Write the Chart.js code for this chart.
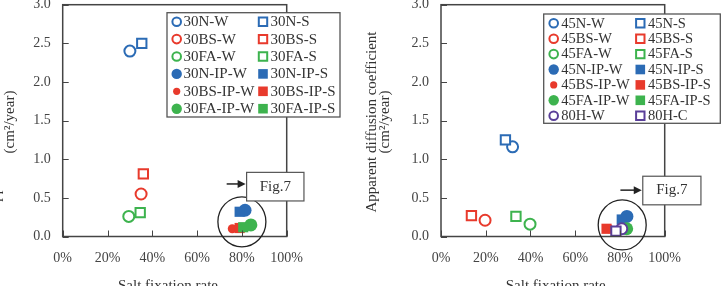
<!DOCTYPE html>
<html>
<head>
<meta charset="utf-8">
<script src="https://cdn.jsdelivr.net/npm/chart.js@4"></script>
<style>
  html, body { margin: 0; padding: 0; background: #fff; }
  #wrap { position: relative; width: 723px; height: 286px; overflow: hidden; }
  .pane { position: absolute; top: 0; height: 286px; }
</style>
</head>
<body>
<div id="wrap">
  <div class="pane" style="left:0;width:362px"><canvas id="chart1" width="362" height="286"></canvas></div>
  <div class="pane" style="left:362px;width:361px"><canvas id="chart2" width="361" height="286"></canvas></div>
</div>
<script>
// left panel: W/S pairs, one legend row per pair
var leftSeries = ['30N-W', '30N-S', '30BS-W', '30BS-S', '30FA-W', '30FA-S',
                  '30N-IP-W', '30N-IP-S', '30BS-IP-W', '30BS-IP-S', '30FA-IP-W', '30FA-IP-S'];
var leftX = [30, 35.3, 35, 36, 29.5, 34.6, 81.4, 79, 75.7, 79, 84, 80.6];
var leftY = [2.40, 2.50, 0.55, 0.81, 0.26, 0.31, 0.34, 0.32, 0.10, 0.11, 0.15, 0.12];

// right panel
var rightSeries = ['45N-W', '45N-S', '45BS-W', '45BS-S', '45FA-W', '45FA-S',
                   '45N-IP-W', '45N-IP-S', '45BS-IP-W', '45BS-IP-S', '45FA-IP-W', '45FA-IP-S',
                   '80H-W', '80H-C'];
var rightX = [32, 28.8, 19.7, 13.6, 39.8, 33.5, 83.1, 80.8, 75, 74, 83, 81.5, 80.8, 78.2];
var rightY = [1.16, 1.25, 0.21, 0.27, 0.16, 0.26, 0.26, 0.22, 0.10, 0.10, 0.10, 0.10, 0.10, 0.07];

var xTicks = [0, 20, 40, 60, 80, 100];
var yTicks = [0, 0.5, 1.0, 1.5, 2.0, 2.5, 3.0];

var SERIF = '"Liberation Serif", "DejaVu Serif", serif';
var colors = { N: '#2b6bb5', BS: '#e83a2c', FA: '#3db34e', H: '#5a3f99' };

function styleFor(name) {
    var m = name.match(/^\d+(N|BS|FA|H)/);
    var color = colors[m[1]];
    var filled = name.indexOf('-IP-') >= 0;
    var circle = /-W$/.test(name);
    var r;
    if (circle) r = filled ? (m[1] === 'BS' ? 4.5 : 6.5) : 5.5;
    else r = filled ? 7.2 : 6.6;
    return { color: color, filled: filled, circle: circle, r: r };
}

function makeDatasets(names, xs, ys) {
    var n = names.length;
    return names.map(function(name, i) {
        var s = styleFor(name);
        return {
            label: name,
            data: [{ x: xs[i], y: ys[i] }],
            pointStyle: s.circle ? 'circle' : 'rect',
            pointRadius: s.r,
            pointBorderWidth: s.filled ? 0 : 2,
            borderColor: s.color,
            backgroundColor: s.filled ? s.color : '#fff',
            showLine: false,
            clip: false,
            order: n - i
        };
    });
}

function drawMarker(ctx, s, x, y) {
    ctx.save();
    ctx.fillStyle = s.filled ? s.color : '#fff';
    ctx.strokeStyle = s.color;
    ctx.lineWidth = 2;
    ctx.beginPath();
    if (s.circle) {
        var r = s.filled ? (s.r === 4.5 ? 3.6 : 5.2) : 4.3;
        ctx.arc(x, y, r, 0, Math.PI * 2);
    } else {
        var h = s.filled ? 4.8 : 4.2;
        ctx.rect(x - h, y - h, h * 2, h * 2);
    }
    ctx.fill();
    if (!s.filled) ctx.stroke();
    ctx.restore();
}

var decorPlugin = {
    id: 'decor',
    afterDraw: function(chart, args, o) {
        var ctx = chart.ctx, a = chart.chartArea;
        var xs = chart.scales.x, ys = chart.scales.y;
        ctx.save();
        // frame + inward ticks
        ctx.strokeStyle = '#444';
        ctx.lineWidth = 1.5;
        ctx.strokeRect(a.left, a.top, a.right - a.left, a.bottom - a.top);
        ctx.lineWidth = 1;
        ctx.beginPath();
        yTicks.forEach(function(v) {
            var py = Math.round(ys.getPixelForValue(v)) + 0.5;
            ctx.moveTo(a.left, py); ctx.lineTo(a.left + 6, py);
        });
        xTicks.forEach(function(v) {
            var px = Math.round(xs.getPixelForValue(v)) + 0.5;
            ctx.moveTo(px, a.bottom); ctx.lineTo(px, a.bottom - 6);
        });
        ctx.stroke();

        // axis titles
        ctx.fillStyle = '#333';
        ctx.font = '15px ' + SERIF;
        ctx.textAlign = 'center';
        ctx.textBaseline = 'middle';
        ctx.fillText('Salt fixation rate', o.xTitleX, 286);
        o.yTitle.forEach(function(t) {
            ctx.save();
            ctx.translate(t.x, 122);
            ctx.rotate(-Math.PI / 2);
            ctx.textBaseline = t.base;
            ctx.fillText(t.text, 0, 0);
            ctx.restore();
        });

        // highlight circle
        var cx = xs.getPixelForValue(o.ring.x), cy = ys.getPixelForValue(o.ring.y);
        ctx.strokeStyle = '#222';
        ctx.lineWidth = 1.3;
        ctx.beginPath();
        ctx.ellipse(cx, cy, 24, 25, 0, 0, Math.PI * 2);
        ctx.stroke();

        // Fig.7 callout
        var bx0 = xs.getPixelForValue(o.fig.x0), bx1 = xs.getPixelForValue(o.fig.x1);
        var by0 = ys.getPixelForValue(o.fig.y0), by1 = ys.getPixelForValue(o.fig.y1);
        ctx.fillStyle = '#fff';
        ctx.fillRect(bx0, by0, bx1 - bx0, by1 - by0);
        ctx.strokeStyle = '#555';
        ctx.lineWidth = 1.2;
        ctx.strokeRect(bx0, by0, bx1 - bx0, by1 - by0);
        ctx.fillStyle = '#333';
        ctx.font = '15px ' + SERIF;
        ctx.textBaseline = 'middle';
        ctx.fillText('Fig.7', (bx0 + bx1) / 2, (by0 + by1) / 2);
        var ax = xs.getPixelForValue(o.fig.ax), ay = ys.getPixelForValue(o.fig.ay);
        ctx.strokeStyle = '#222';
        ctx.lineWidth = 1.5;
        ctx.beginPath();
        ctx.moveTo(ax, ay); ctx.lineTo(bx0 - 7, ay);
        ctx.stroke();
        ctx.fillStyle = '#222';
        ctx.beginPath();
        ctx.moveTo(bx0 - 1, ay); ctx.lineTo(bx0 - 9, ay - 4); ctx.lineTo(bx0 - 9, ay + 4);
        ctx.closePath();
        ctx.fill();

        // legend, two columns
        var L = o.legend;
        ctx.fillStyle = '#fff';
        ctx.fillRect(L.x, L.y, L.w, L.h);
        ctx.strokeStyle = '#555';
        ctx.lineWidth = 1.3;
        ctx.strokeRect(L.x, L.y, L.w, L.h);
        ctx.font = L.font + 'px ' + SERIF;
        ctx.textAlign = 'left';
        chart.data.datasets.forEach(function(ds, i) {
            var row = Math.floor(i / 2), col = i % 2;
            var y = L.row0 + row * L.rowH;
            var s = styleFor(ds.label);
            drawMarker(ctx, s, L.mx[col], y);
            ctx.fillStyle = '#333';
            ctx.fillText(ds.label, L.tx[col], y + 0.5);
        });
        ctx.restore();
    }
};

function scalesFor(yWidth) {
    return {
        x: {
            type: 'linear', min: 0, max: 100,
            afterBuildTicks: function(s) { s.ticks = xTicks.map(function(v) { return { value: v }; }); },
            ticks: { callback: function(v) { return v + '%'; }, color: '#444', font: { family: SERIF, size: 14 }, padding: 13, maxRotation: 0 },
            grid: { display: false, drawTicks: false },
            border: { display: false },
            afterFit: function(s) { s.height = 49.5; s.paddingLeft = 0; s.paddingRight = 0; }
        },
        y: {
            type: 'linear', min: 0, max: 3,
            afterBuildTicks: function(s) { s.ticks = yTicks.map(function(v) { return { value: v }; }); },
            ticks: { callback: function(v) { return v.toFixed(1); }, color: '#444', font: { family: SERIF, size: 14 }, padding: 12 },
            grid: { display: false, drawTicks: false },
            border: { display: false },
            afterFit: function(s) { s.width = yWidth; s.paddingTop = 0; s.paddingBottom = 0; }
        }
    };
}

window.onload = function() {
    var ctx1 = document.getElementById('chart1').getContext('2d');
    var ctx2 = document.getElementById('chart2').getContext('2d');

    new Chart(ctx1, {
        type: 'scatter',
        data: { datasets: makeDatasets(leftSeries, leftX, leftY) },
        options: {
            responsive: false,
            animation: false,
            layout: { autoPadding: false, padding: { top: 4.7, right: 75.3, left: 0, bottom: 0 } },
            scales: scalesFor(62.7),
            plugins: {
                legend: { display: false },
                tooltip: { enabled: false },
                decor: {
                    xTitleX: 168,
                    yTitle: [{ text: 'Apparent diffusion coefficient', x: -0.5, base: 'alphabetic' },
                             { text: '(cm\u00b2/year)', x: 10, base: 'middle' }],
                    ring: { x: 80, y: 0.19 },
                    fig: { x0: 82.1, x1: 107.7, y0: 0.83, y1: 0.46, ax: 73.2, ay: 0.68 },
                    legend: { x: 167, y: 12.7, w: 173, h: 104.3, row0: 21.7, rowH: 17.4, mx: [176.7, 263], tx: [183.5, 270.5], font: 15 }
                }
            }
        },
        plugins: [decorPlugin]
    });

    new Chart(ctx2, {
        type: 'scatter',
        data: { datasets: makeDatasets(rightSeries, rightX, rightY) },
        options: {
            responsive: false,
            animation: false,
            layout: { autoPadding: false, padding: { top: 4.7, right: 58.3, left: 0, bottom: 0 } },
            scales: scalesFor(79),
            plugins: {
                legend: { display: false },
                tooltip: { enabled: false },
                decor: {
                    xTitleX: 193.7,
                    yTitle: [{ text: 'Apparent diffusion coefficient', x: 10, base: 'middle' },
                             { text: '(cm\u00b2/year)', x: 23, base: 'middle' }],
                    ring: { x: 81, y: 0.15 },
                    fig: { x0: 90.2, x1: 116.2, y0: 0.78, y1: 0.41, ax: 80.2, ay: 0.60 },
                    legend: { x: 181.7, y: 14, w: 176.6, h: 109.3, row0: 23.3, rowH: 15.4, mx: [191.7, 278.3], tx: [199.3, 286], font: 14.5 }
                }
            }
        },
        plugins: [decorPlugin]
    });
};
</script>
</body>
</html>
